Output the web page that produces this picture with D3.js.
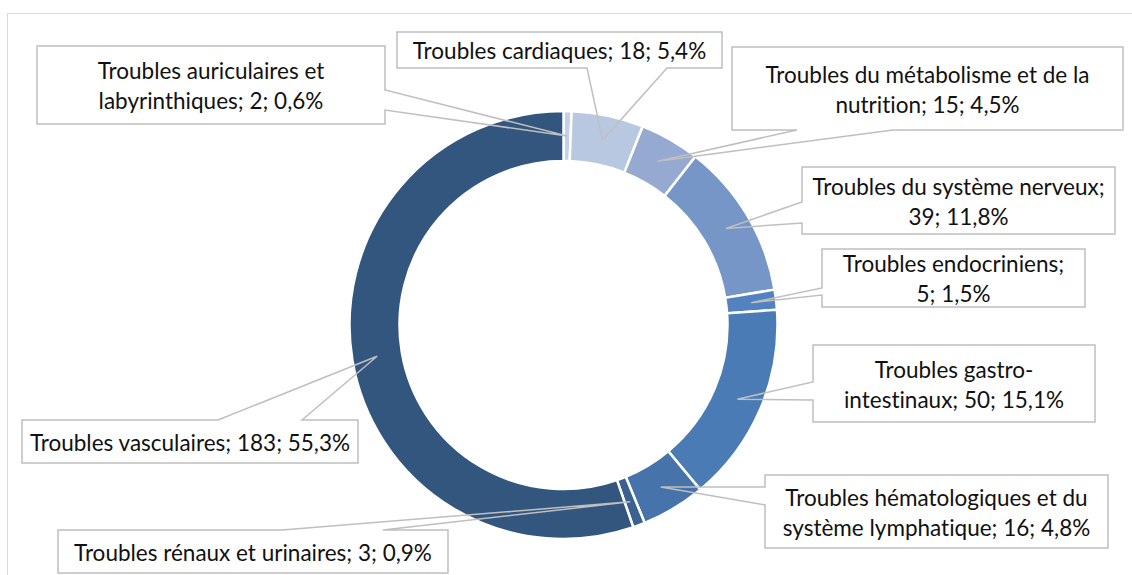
<!DOCTYPE html>
<html>
<head>
<meta charset="utf-8">
<script src="https://cdn.jsdelivr.net/npm/d3@7"></script>
<style>
  body { margin: 0; background: #fff; }
  text { font-family: Lato, "Open Sans", sans-serif; fill: #111; font-variant-ligatures: none; }
</style>
</head>
<body>
<div id="chart"></div>
<script>
// data
const categories = [
    "Troubles auriculaires et labyrinthiques",
    "Troubles cardiaques",
    "Troubles du métabolisme et de la nutrition",
    "Troubles du système nerveux",
    "Troubles endocriniens",
    "Troubles gastro-intestinaux",
    "Troubles hématologiques et du système lymphatique",
    "Troubles rénaux et urinaires",
    "Troubles vasculaires"
];
const values = [2, 18, 15, 39, 5, 50, 16, 3, 183];
const colors = ["#c3d0e8", "#b9c8e1", "#95a9d1", "#7596c6", "#5283c0", "#4a7bb5", "#4673aa", "#3b6190", "#33567f"];

// callout layout: box, side the pointer leaves from, the two points on that side, line break
const callouts = [
    { x: 37, y: 46, w: 348, h: 78, side: "right", a: 90, b: 110, brk: 24 },
    { x: 397, y: 32, w: 325, h: 36, side: "bottom", a: 587, b: 667, brk: 0 },
    { x: 732, y: 47, w: 391, h: 83, side: "bottom", a: 797, b: 893, brk: 32 },
    { x: 802, y: 167, w: 313, h: 67, side: "left", a: 202, b: 223, brk: 28 },
    { x: 822, y: 249, w: 263, h: 58, side: "left", a: 288, b: 295, brk: 22 },
    { x: 813, y: 345, w: 282, h: 77, side: "left", a: 382, b: 400, brk: 16 },
    { x: 765, y: 475, w: 343, h: 73, side: "left", a: 487, b: 505, brk: 29 },
    { x: 58, y: 530, w: 390, h: 43, side: "top", a: 282, b: 383, brk: 0 },
    { x: 22, y: 420, w: 336, h: 43, side: "top", a: 218, b: 302, brk: 0 }
];

const width = 1132, height = 575;
const cx = 563.5, cy = 325;
const outerR = 214, innerR = 164;
const fontSize = 22.5, lineH = 30;

const total = d3.sum(values);
const fmt = v => (v / total * 100).toFixed(1).replace(".", ",") + "%";

const svg = d3.select("#chart").append("svg")
    .attr("width", width)
    .attr("height", height);

// chart frame
svg.append("rect")
    .attr("x", 7.5).attr("y", 13.5)
    .attr("width", 1140).attr("height", 600)
    .attr("fill", "none")
    .attr("stroke", "#d9d9d9");

const pie = d3.pie().sort(null).value(d => d);
const arcs = pie(values);
const arc = d3.arc().innerRadius(innerR).outerRadius(outerR);

const g = svg.append("g").attr("transform", `translate(${cx},${cy})`);

g.selectAll("path.slice")
    .data(arcs)
    .enter().append("path")
    .attr("class", "slice")
    .attr("d", arc)
    .attr("fill", (d, i) => colors[i])
    .attr("stroke", "#fff")
    .attr("stroke-width", 2.5);

// callout outline with a wedge going to the slice centroid
function calloutPath(c, tip) {
    const x0 = c.x, y0 = c.y, x1 = c.x + c.w, y1 = c.y + c.h;
    let pts;
    if (c.side === "bottom") {
        pts = [[x0, y0], [x1, y0], [x1, y1], [c.b, y1], tip, [c.a, y1], [x0, y1]];
    } else if (c.side === "top") {
        pts = [[x0, y0], [c.a, y0], tip, [c.b, y0], [x1, y0], [x1, y1], [x0, y1]];
    } else if (c.side === "left") {
        pts = [[x0, y0], [x1, y0], [x1, y1], [x0, y1], [x0, c.b], tip, [x0, c.a]];
    } else {
        pts = [[x0, y0], [x1, y0], [x1, c.a], tip, [x1, c.b], [x1, y1], [x0, y1]];
    }
    return "M" + pts.map(p => p.join(",")).join("L") + "Z";
}

const labels = svg.append("g");

arcs.forEach((d, i) => {
    const c = callouts[i];
    const ctr = arc.centroid(d);
    const tip = [cx + ctr[0], cy + ctr[1]];

    labels.append("rect")
        .attr("x", c.x).attr("y", c.y)
        .attr("width", c.w).attr("height", c.h)
        .attr("fill", "#fff");

    labels.append("path")
        .attr("d", calloutPath(c, tip))
        .attr("fill", "none")
        .attr("stroke", "#bfbfbf")
        .attr("stroke-width", 1.5)
        .attr("stroke-linejoin", "miter");

    const full = `${categories[i]}; ${values[i]}; ${fmt(values[i])}`;
    const lines = c.brk ? [full.slice(0, c.brk).trim(), full.slice(c.brk).trim()] : [full];
    const midY = c.y + c.h / 2;

    const t = labels.append("text")
        .attr("text-anchor", "middle")
        .attr("font-size", fontSize + "px");

    lines.forEach((s, k) => {
        t.append("tspan")
            .attr("x", c.x + c.w / 2)
            .attr("y", midY + (k - (lines.length - 1) / 2) * lineH)
            .attr("dy", "0.42em")
            .text(s);
    });
});
</script>
</body>
</html>
